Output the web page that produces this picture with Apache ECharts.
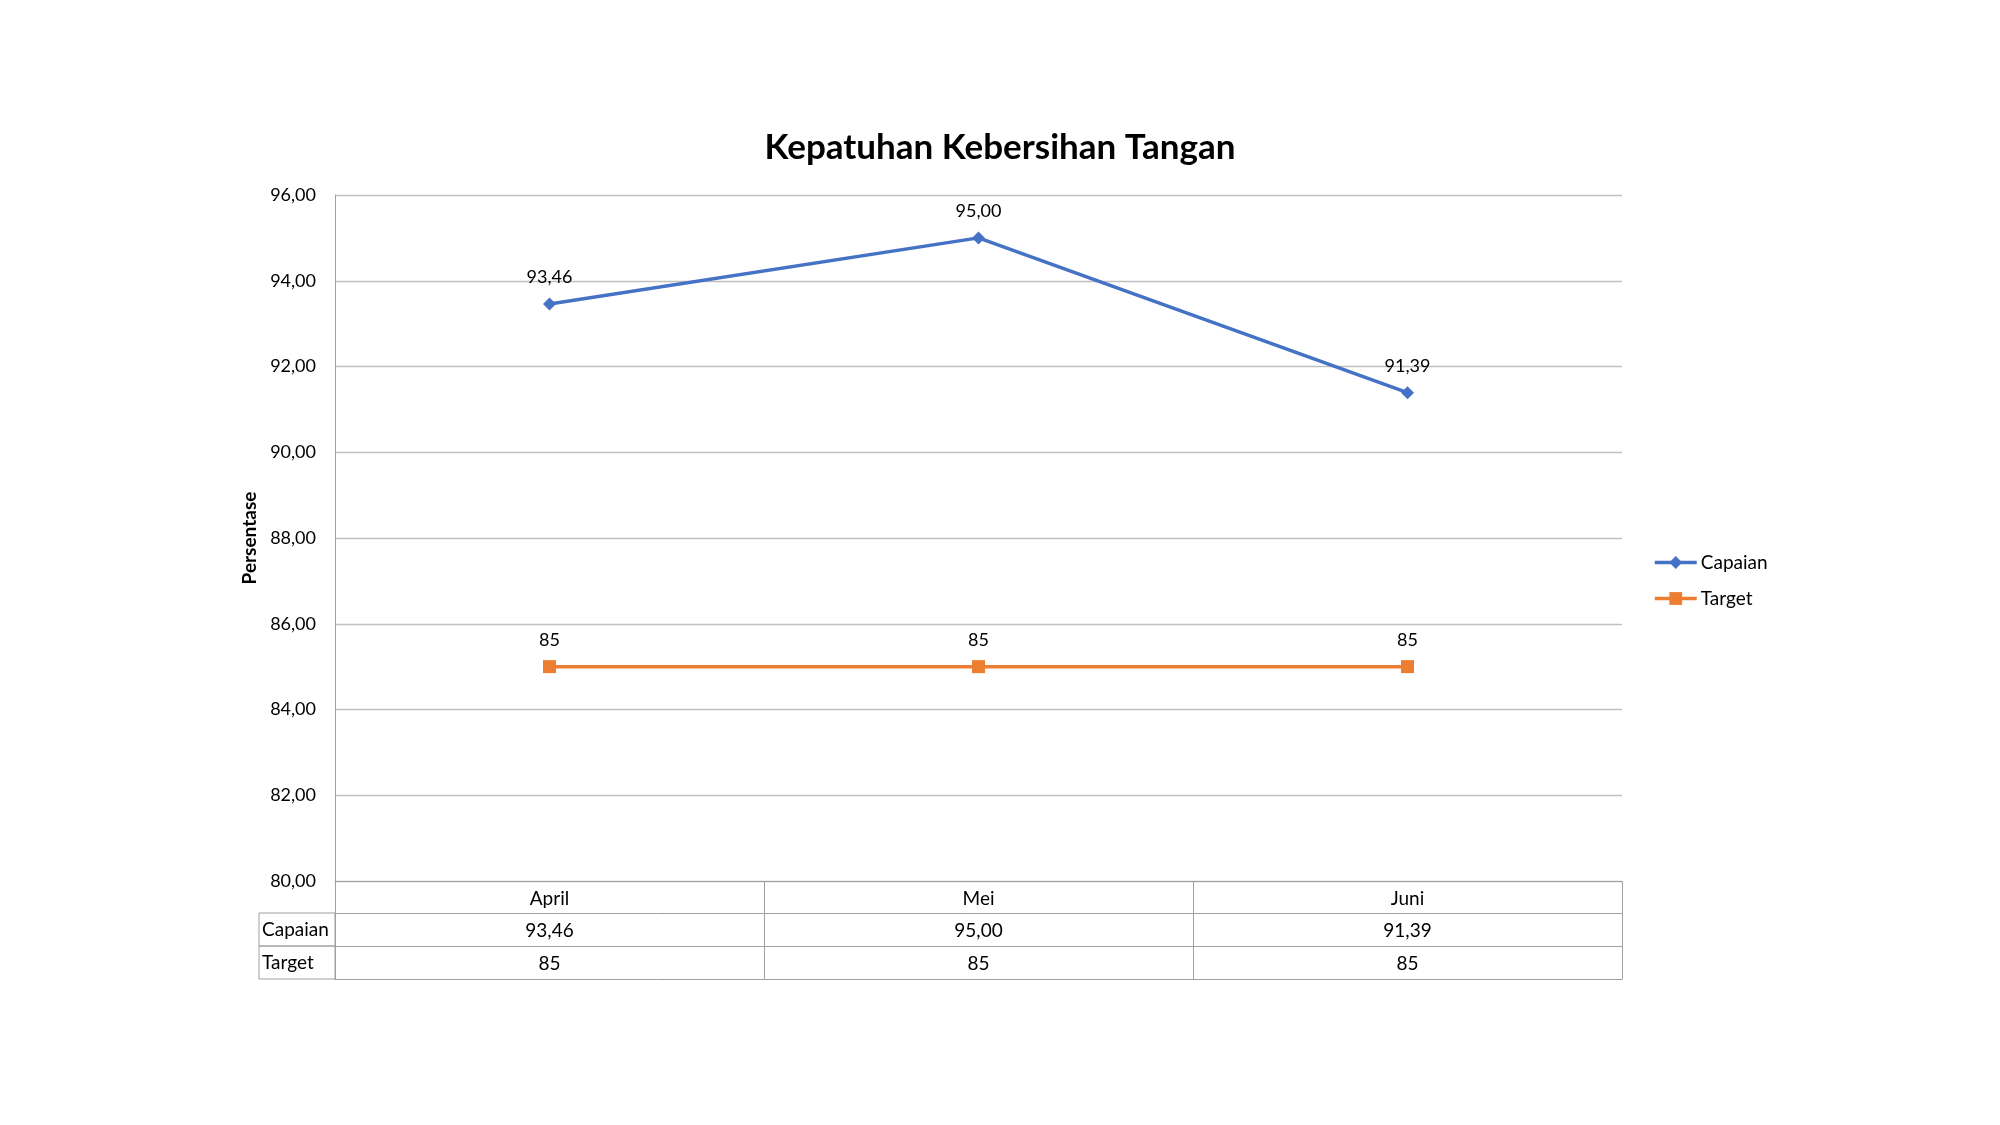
<!DOCTYPE html>
<html>
<head>
<meta charset="utf-8">
<title>Kepatuhan Kebersihan Tangan</title>
<script src="https://cdn.jsdelivr.net/npm/echarts@6/dist/echarts.min.js"></script>
<style>
  html, body { margin: 0; padding: 0; background: #fff; }
  #chart { width: 2000px; height: 1125px; }
</style>
</head>
<body>
<div id="chart"></div>
<script>
// data
const categories = ['April', 'Mei', 'Juni']
const capaian = [93.46, 95.00, 91.39]
const target = [85, 85, 85]
const yTicks = { min: 80, max: 96, interval: 2 }

const fmt2 = (v) => v.toFixed(2).replace('.', ',')
const fmtInt = (v) => String(v)

const gray = '#a0a0a0'
const font = 'Lato, "Liberation Sans", sans-serif'

// name box for the left column of the data table
const rowName = (text) => ({
  name: '{c|' + text + '}',
  nameLocation: 'start',
  nameGap: 76,
  nameTextStyle: {
    align: 'left',
    verticalAlign: 'top',
    padding: [0, 0, 0, 3],
    borderColor: gray,
    borderWidth: 1,
    rich: {
      c: {
        width: 73,
        height: 33,
        lineHeight: 33,
        align: 'left',
        fontFamily: font,
        fontSize: 19,
        color: '#000'
      }
    }
  }
})

const tableAxis = (data, offset, extra) => Object.assign({
  type: 'category',
  gridIndex: 0,
  position: 'bottom',
  offset: offset,
  data: data,
  axisLine: { show: true, onZero: false, lineStyle: { color: gray, width: 1 } },
  axisTick: { show: false },
  axisLabel: { interval: 0, margin: 8, fontFamily: font, fontSize: 19, color: '#000' },
  splitLine: { show: false }
}, extra)

const option = {
  animation: false,
  textStyle: { fontFamily: font },
  title: {
    text: 'Kepatuhan Kebersihan Tangan',
    left: 'center',
    top: 125,
    textStyle: { fontFamily: font, fontSize: 35, fontWeight: 'bold', color: '#000' }
  },
  legend: {
    orient: 'vertical',
    left: 1648,
    top: 548,
    itemWidth: 42,
    itemHeight: 16,
    itemGap: 17,
    lineStyle: { width: 3.5 },
    textStyle: { fontFamily: font, fontSize: 19, color: '#000', padding: [0, 0, 0, -1] },
    data: ['Capaian', 'Target']
  },
  grid: { left: 335, right: 378, top: 195, bottom: 244, containLabel: false },
  xAxis: [
    tableAxis(categories, 0, {
      axisTick: { show: true, interval: 0, length: 98, lineStyle: { color: gray, width: 1 } }
    }),
    tableAxis(capaian.map(fmt2), 32, rowName('Capaian')),
    tableAxis(target.map(fmtInt), 65, rowName('Target')),
    tableAxis([], 98, { axisLabel: { show: false } })
  ],
  yAxis: {
    type: 'value',
    min: yTicks.min,
    max: yTicks.max,
    interval: yTicks.interval,
    name: 'Persentase',
    nameLocation: 'middle',
    nameGap: 76,
    nameTextStyle: { fontFamily: font, fontSize: 19, fontWeight: 'bold', color: '#000' },
    axisLine: { show: true, lineStyle: { color: gray, width: 1 } },
    axisTick: { show: false },
    axisLabel: { margin: 19, fontFamily: font, fontSize: 18, color: '#000', formatter: fmt2 },
    splitLine: { lineStyle: { color: '#bfbfbf', width: 1.3 } }
  },
  series: [
    {
      name: 'Capaian',
      type: 'line',
      data: capaian,
      symbol: 'diamond',
      symbolSize: 13,
      itemStyle: { color: '#4472C4' },
      lineStyle: { color: '#4472C4', width: 3.5 },
      label: {
        show: true, position: 'top', distance: 11,
        fontFamily: font, fontSize: 18, color: '#000',
        formatter: (p) => fmt2(p.value)
      }
    },
    {
      name: 'Target',
      type: 'line',
      data: target,
      symbol: 'rect',
      symbolSize: 13,
      itemStyle: { color: '#ED7D31' },
      lineStyle: { color: '#ED7D31', width: 3.5 },
      label: {
        show: true, position: 'top', distance: 11,
        fontFamily: font, fontSize: 18, color: '#000',
        formatter: (p) => fmtInt(p.value)
      }
    }
  ]
}

const drawEcharts = (option) => {
  let myChart = echarts.init(document.getElementById('chart'))
  myChart.setOption(option)
}

drawEcharts(option)
</script>
</body>
</html>
